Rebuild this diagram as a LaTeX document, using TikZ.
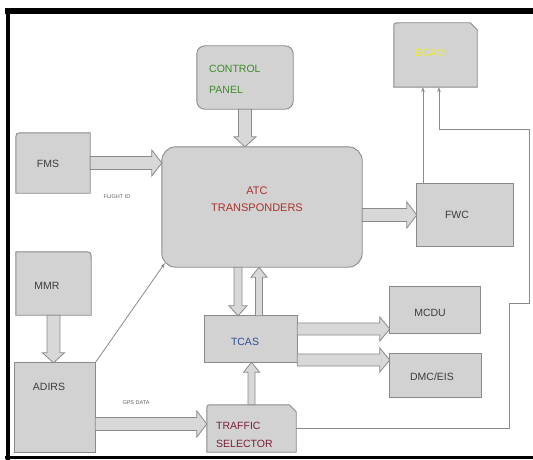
\documentclass[tikz,border=0pt]{standalone}
\usepackage{fontspec}
\setmainfont{Liberation Sans}
\usetikzlibrary{calc,backgrounds,arrows.meta}
\definecolor{boxfill}{HTML}{D2D2D2}
\definecolor{boxline}{HTML}{8A8A8A}
\definecolor{arrfill}{HTML}{D8D8D8}
\definecolor{txt}{HTML}{3C3C3C}
\definecolor{cpgreen}{HTML}{3F8A2A}
\definecolor{atcred}{HTML}{A8322E}
\definecolor{tcasblue}{HTML}{2F4F98}
\definecolor{tsred}{HTML}{7A2038}
\definecolor{ecamyel}{HTML}{EEEE22}
% #1 shaft half width, #2 head half width, #3 from, #4 to
\newcommand\blkarrow[4]{%
 \draw[blk] let \p1=#3, \p2=#4, \n1={atan2(\y2-\y1,\x2-\x1)}, \n2={veclen(\x2-\x1,\y2-\y1)} in
 {[shift={(\p1)},rotate=\n1] (0pt,-#1pt) -- (\n2-10pt,-#1pt) -- (\n2-10pt,-#2pt) -- (\n2,0pt) -- (\n2-10pt,#2pt) -- (\n2-10pt,#1pt) -- (0pt,#1pt) -- cycle};}
\begin{document}
\begin{tikzpicture}[x=1pt,y=-1pt,
 box/.style={draw=none, inner sep=0pt},
 shp/.style={draw=boxline, fill=boxfill, line width=0.9pt},
 lbl/.style={inner sep=0pt, font=\fontsize{10.5}{13}\selectfont, text=txt},
 tinylbl/.style={inner sep=0pt, font=\fontsize{5.5}{6}\selectfont, text=txt!80},
 blk/.style={draw=boxline, fill=arrfill, line width=0.8pt, line join=miter},
 conn/.style={draw=boxline, line width=0.8pt, -{Stealth[length=5pt,width=3.5pt]}}]
\path[use as bounding box] (0,0) rectangle (533,460);
\clip (0,0) rectangle (533,460);

% boxes
\node[box, minimum width=83pt, minimum height=64pt] (ecam) at (435.5,55) {};
\node[box, minimum width=96pt, minimum height=63pt] (cp) at (245,77.5) {};
\node[box, minimum width=200pt, minimum height=120pt] (atc) at (262,207) {};
\node[box, minimum width=74pt, minimum height=60pt] (fms) at (53,163) {};
\node[box, minimum width=96pt, minimum height=62pt] (fwc) at (465,215) {};
\node[box, minimum width=75pt, minimum height=63pt] (mmr) at (53.5,283.5) {};
\node[box, minimum width=80pt, minimum height=89pt] (adirs) at (55,407.5) {};
\node[box, minimum width=92pt, minimum height=46pt] (tcas) at (251,339) {};
\node[box, minimum width=90pt, minimum height=46pt] (mcdu) at (435,310) {};
\node[box, minimum width=91pt, minimum height=43pt] (dmc) at (435.5,375.5) {};
\node[box, minimum width=89pt, minimum height=47pt] (ts) at (251.5,428.5) {};

\begin{pgfonlayer}{background}
\fill[white] (0,0) rectangle (533,460);
\path[shp] (ecam.south west) -- ($(ecam.north west)+(0,6)$) .. controls (ecam.north west) .. ($(ecam.north west)+(6,0)$) -- ($(ecam.north east)+(-7,0)$) -- ($(ecam.north east)+(0,7)$) -- (ecam.south east) -- cycle;
\path[shp, rounded corners=8pt] (cp.south west) rectangle (cp.north east);
\path[shp, rounded corners=14pt] (atc.south west) rectangle (atc.north east);
\path[shp] (fms.south west) -- ($(fms.north west)+(0,8)$) .. controls (fms.north west) .. ($(fms.north west)+(8,0)$) -- (fms.north east) -- (fms.south east) -- cycle;
\path[shp] (fwc.south west) rectangle (fwc.north east);
\path[shp] (mmr.south west) -- (mmr.north west) -- ($(mmr.north east)+(-8,0)$) .. controls (mmr.north east) .. ($(mmr.north east)+(0,8)$) -- (mmr.south east) -- cycle;
\path[shp] (adirs.south west) rectangle (adirs.north east);
\path[shp] (tcas.south west) rectangle (tcas.north east);
\path[shp] (mcdu.south west) rectangle (mcdu.north east);
\path[shp] (dmc.south west) rectangle (dmc.north east);
\path[shp] (ts.south west) -- ($(ts.north west)+(0,6)$) .. controls (ts.north west) .. ($(ts.north west)+(6,0)$) -- ($(ts.north east)+(-7,0)$) -- ($(ts.north east)+(0,7)$) -- (ts.south east) -- cycle;
\end{pgfonlayer}

% texts
\node[lbl, text=ecamyel] (ecamt) at (430,53) {ECAM};
\node[lbl, text=cpgreen, anchor=west, align=left, font=\fontsize{10.5}{21}\selectfont] (cpt) at (209,79) {CONTROL\\PANEL};
\node[lbl, text=atcred, align=center, font=\fontsize{11}{17}\selectfont] (atct) at (257,199) {ATC\\TRANSPONDERS};
\node[lbl] (fmst) at (48,164) {FMS};
\node[tinylbl] (flid) at (117,197) {FLIGHT ID};
\node[lbl] (fwct) at (457,215) {FWC};
\node[lbl] (mmrt) at (47,286) {MMR};
\node[lbl] (adirst) at (49,387) {ADIRS};
\node[tinylbl] (gps) at (136,403) {GPS DATA};
\node[lbl, text=tcasblue] (tcast) at (245,342) {TCAS};
\node[lbl] (mcdut) at (430,313) {MCDU};
\node[lbl] (dmct) at (432,377) {DMC/EIS};
\node[lbl, text=tsred, anchor=west, align=left, font=\fontsize{10.5}{18}\selectfont] (tst) at (216,435) {TRAFFIC\\SELECTOR};

% helper coordinates
\coordinate (dn) at (238,0);
\coordinate (up) at (259,0);
\coordinate (a1) at (0,329);
\coordinate (a2) at (0,360);
\coordinate (a3) at (0,424);
\coordinate (fw) at (423,0);
\coordinate (c1) at (509,303);
\coordinate (c2) at (529,129);
\coordinate (tap) at (439,0);

% block arrows
\blkarrow{6.5}{11}{(cp.south)}{(cp.south |- atc.north)}
\blkarrow{6.5}{13}{(fms.east)}{(fms.east -| atc.west)}
\blkarrow{6.5}{13}{(atc.east |- fwc.west)}{(fwc.west)}
\blkarrow{6.5}{11}{(mmr.south)}{(mmr.south |- adirs.north)}
\blkarrow{4}{9}{(dn |- atc.south)}{(dn |- tcas.north)}
\blkarrow{3.5}{8}{(up |- tcas.north)}{(up |- atc.south)}
\blkarrow{3.5}{8}{(ts.north)}{(ts.north |- tcas.south)}
\blkarrow{6}{12}{(a1 -| tcas.east)}{(a1 -| mcdu.west)}
\blkarrow{6}{12}{(a2 -| tcas.east)}{(a2 -| dmc.west)}
\blkarrow{6.5}{13}{(a3 -| adirs.east)}{(a3 -| ts.west)}

% thin connectors
\draw[conn] (fw |- fwc.north) -- (fw |- ecam.south);
\draw[conn] (ts.east) -| (c1) -| (c2) -| (tap |- ecam.south);
\draw[conn] (adirs.north east) -- ($(atc.south west)+(3,-4)$);

% frame
\draw[line width=6pt] (5,11.5) -- (540,11.5);
\draw[line width=4pt] (8,9) -- (8,462);
\draw[line width=3.5pt] (5,457.5) -- (540,457.5);
\end{tikzpicture}
\end{document}
